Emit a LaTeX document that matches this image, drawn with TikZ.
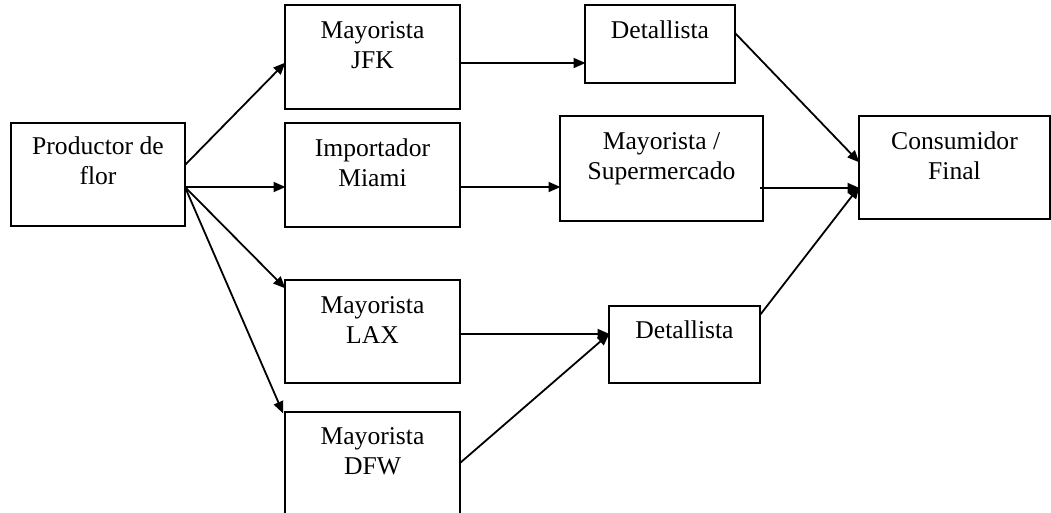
\documentclass[tikz,border=0pt]{standalone}
\usepackage{fontspec}
\setmainfont{Liberation Serif}
\usetikzlibrary{arrows.meta}

\tikzset{
  box/.style={draw, line width=1.8pt, rectangle, inner sep=0pt, outer sep=0pt, anchor=north west},
  lbl/.style={inner sep=0pt, anchor=base, font=\fontsize{25.6}{30}\selectfont},
  flow/.style={line width=1.8pt, -{Triangle[length=12pt,width=10pt]}, shorten >=-0.5pt}
}
\newcommand{\twolines}[2]{\begin{tabular}[t]{@{}c@{}}#1\\#2\end{tabular}}

\begin{document}
\begin{tikzpicture}[x=1pt,y=-1pt]
  \useasboundingbox (0,0) rectangle (1051,512);
  \clip (0,0) rectangle (1051,512);

  % boxes
  \node[box, minimum width=174pt, minimum height=103pt] (prod)   at (11,123)  {};
  \node[box, minimum width=175pt, minimum height=104pt] (jfk)    at (285,5)   {};
  \node[box, minimum width=175pt, minimum height=104pt] (miami)  at (285,123) {};
  \node[box, minimum width=175pt, minimum height=103pt] (lax)    at (285,280) {};
  \node[box, minimum width=175pt, minimum height=110pt] (dfw)    at (285,412) {};
  \node[box, minimum width=150pt, minimum height=78pt]  (dettop) at (585,5)   {};
  \node[box, minimum width=203pt, minimum height=105pt] (super)  at (560,116) {};
  \node[box, minimum width=151pt, minimum height=77pt]  (detbot) at (609,306) {};
  \node[box, minimum width=191pt, minimum height=103pt] (cons)   at (859,116) {};

  % texts, first baseline about 32pt below each box top
  \node[lbl] (prodt)   at ([yshift=-31pt]prod.north)   {\twolines{Productor de}{flor}};
  \node[lbl] (jfkt)    at ([yshift=-33pt]jfk.north)    {\twolines{Mayorista}{JFK}};
  \node[lbl] (miamit)  at ([yshift=-33pt]miami.north)  {\twolines{Importador}{Miami}};
  \node[lbl] (laxt)    at ([yshift=-33pt]lax.north)    {\twolines{Mayorista}{LAX}};
  \node[lbl] (dfwt)    at ([yshift=-32pt]dfw.north)    {\twolines{Mayorista}{DFW}};
  \node[lbl] (dettopt) at ([yshift=-33pt]dettop.north) {Detallista};
  \node[lbl] (supert)  at ([yshift=-33pt]super.north)  {\twolines{Mayorista /}{Supermercado}};
  \node[lbl] (detbott) at ([yshift=-32pt]detbot.north) {Detallista};
  \node[lbl] (const)   at ([yshift=-33pt]cons.north)   {\twolines{Consumidor}{Final}};

  % connectors
  \draw[flow] ([yshift=-42pt]prod.north east) -- ([yshift=-58pt]jfk.north west);
  \draw[flow] ([yshift=-64pt]prod.north east) -- ([yshift=-64pt]miami.north west);
  \draw[flow] ([yshift=-64pt]prod.north east) -- ([yshift=-8pt]lax.north west);
  \draw[flow] ([yshift=-64pt]prod.north east) -- ([xshift=-2pt,yshift=-1pt]dfw.north west);
  \draw[flow] ([yshift=-58pt]jfk.north east) -- ([yshift=-58pt]dettop.north west);
  \draw[flow] ([yshift=-64pt]miami.north east) -- ([yshift=-71pt]super.north west);
  \draw[flow] ([xshift=-3pt,yshift=-72pt]super.north east) -- ([yshift=-72pt]cons.north west);
  \draw[flow] ([yshift=-28pt]dettop.north east) -- ([yshift=-46pt]cons.north west);
  \draw[flow] ([yshift=-9pt]detbot.north east) -- ([yshift=-71pt]cons.north west);
  \draw[flow] ([yshift=-54pt]lax.north east) -- ([yshift=-28pt]detbot.north west);
  \draw[flow] ([yshift=-51pt]dfw.north east) -- ([yshift=-28pt]detbot.north west);
\end{tikzpicture}
\end{document}
